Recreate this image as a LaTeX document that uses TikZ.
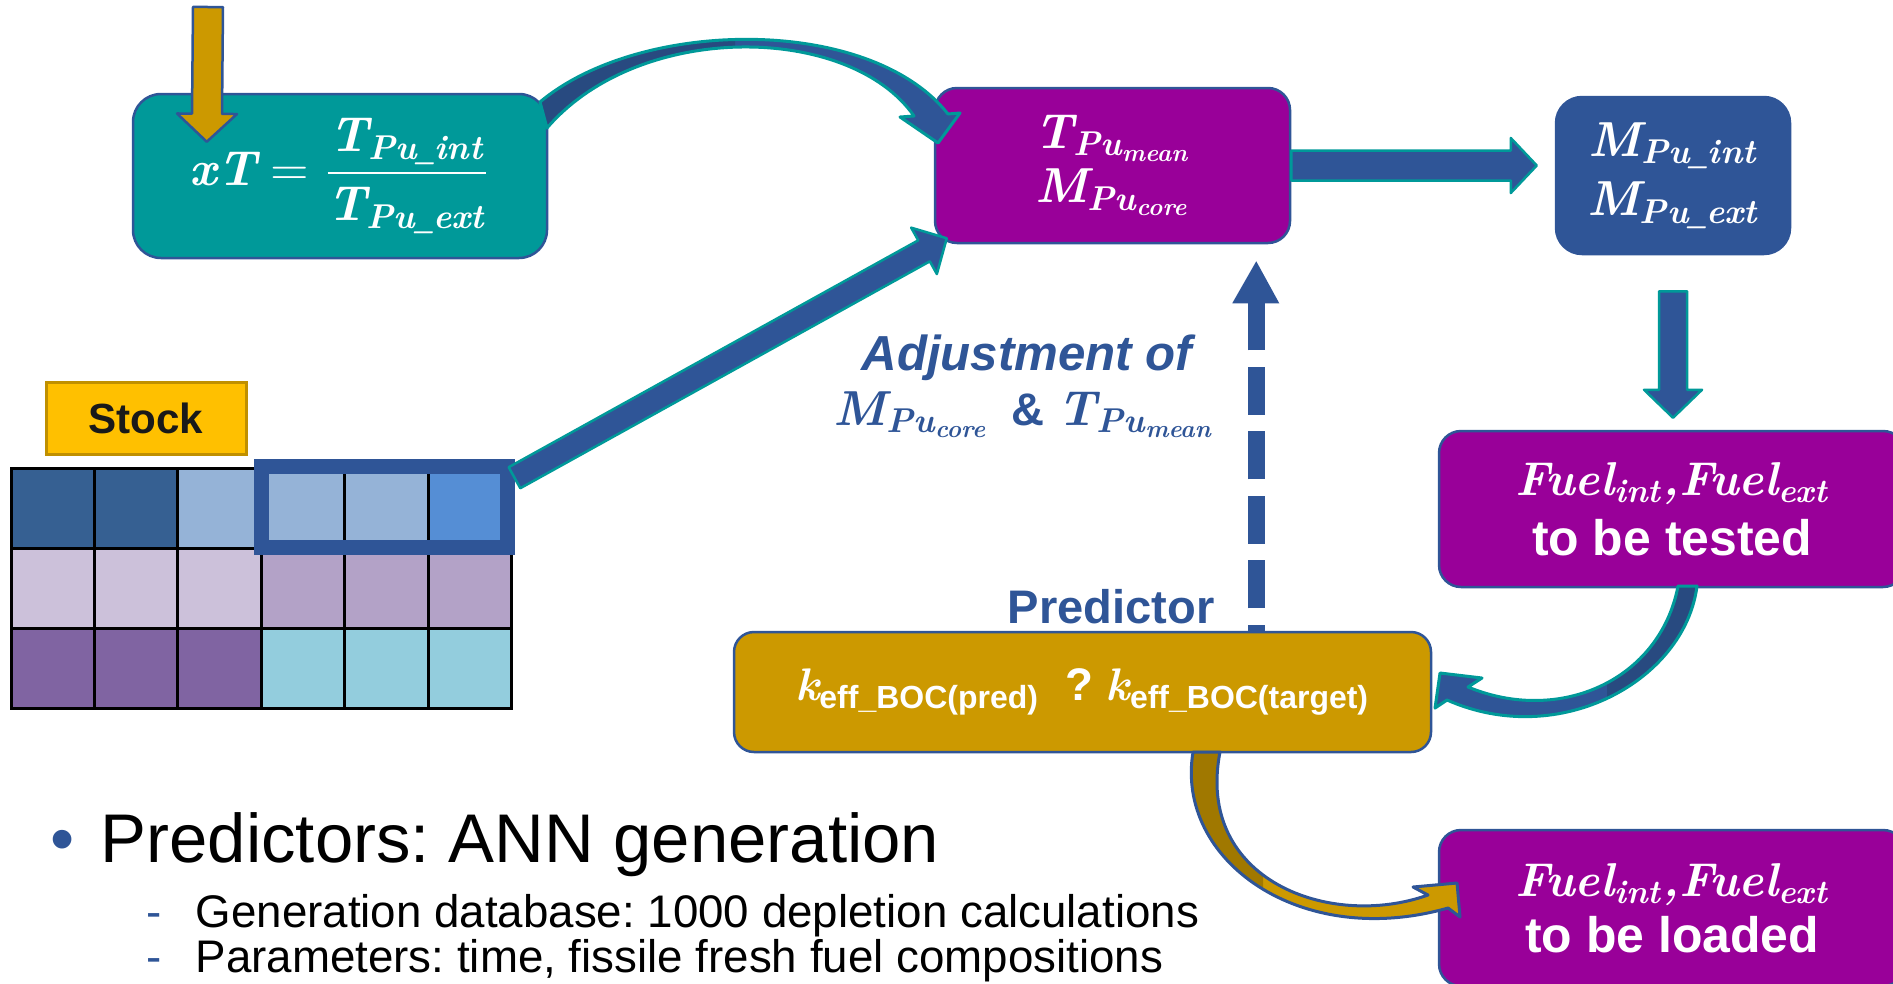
\documentclass[tikz,border=0pt]{standalone}
\usepackage{amsmath}
\usepackage{graphicx}
\usepackage{fontspec}
\setsansfont{Liberation Sans}
\usetikzlibrary{positioning,calc}
\frenchspacing

\definecolor{pptblue}{HTML}{2F5597}
\definecolor{navy}{HTML}{284A80}
\definecolor{tealfill}{HTML}{009999}
\definecolor{purp}{HTML}{990099}
\definecolor{goldbox}{HTML}{CC9900}
\definecolor{golddark}{HTML}{A07800}
\definecolor{stockfill}{HTML}{FFC000}
\definecolor{stockedge}{HTML}{C09000}
\definecolor{gA}{HTML}{366092}
\definecolor{gB}{HTML}{95B3D7}
\definecolor{gC}{HTML}{558ED5}
\definecolor{gD}{HTML}{CCC1DA}
\definecolor{gE}{HTML}{B3A2C7}
\definecolor{gF}{HTML}{8064A2}
\definecolor{gG}{HTML}{93CDDD}

% bold italic maths letters
\newcommand{\bi}[1]{\text{\rmfamily\bfseries\itshape #1}}
\newcommand{\us}{\scalebox{0.6}[1]{\_}}

% block arrow: style, from, to, half shaft, half head, head length
\newcommand{\blockarrow}[6]{%
  \coordinate (bhead) at ($(#3)!#6!(#2)$);
  \filldraw[#1] ($(#2)!#4!90:(#3)$) -- ($(bhead)!#4!90:(#3)$) -- ($(bhead)!#5!90:(#3)$) -- (#3)
    -- ($(bhead)!#5!-90:(#3)$) -- ($(bhead)!#4!-90:(#3)$) -- ($(#2)!#4!-90:(#3)$) -- cycle;
}

\tikzset{
  every node/.style={inner sep=0pt},
  box/.style={draw=pptblue, line width=0.25mm, rounded corners=2.2mm, text=white, align=center},
  mathbox/.style={box, font=\fontsize{14pt}{15.6pt}\selectfont},
  fuelbox/.style={box, fill=purp, font=\fontsize{14.2pt}{17pt}\selectfont},
  stockbox/.style={draw=stockedge, fill=stockfill, line width=0.3mm, minimum width=20mm,
    minimum height=7.2mm, text=black!90, font=\sffamily\bfseries\fontsize{12pt}{14pt}\selectfont},
  cell/.style={draw=black, line width=0.3mm},
  hilite/.style={draw=pptblue, line width=1.5mm},
  bluelabel/.style={text=pptblue},
  bodytext/.style={text=black, font=\sffamily\fontsize{19.6pt}{22pt}\selectfont},
  subtext/.style={text=black, font=\sffamily\fontsize{13pt}{15pt}\selectfont},
  bluearrow/.style={fill=pptblue, draw=tealfill, line width=0.25mm, line join=round},
  goldarrow/.style={fill=goldbox, draw=pptblue, line width=0.25mm, line join=round},
  rimteal/.style={draw=tealfill, line width=0.3mm, line join=round},
  rimblue/.style={draw=pptblue, line width=0.3mm, line join=round},
  dashshaft/.style={draw=pptblue, line width=1.7mm, dash pattern=on 4.8mm off 1.65mm, dash phase=4.2mm}
}

\begin{document}
\begin{tikzpicture}[x=0.1mm, y=-0.1mm]
  \useasboundingbox (0,0) rectangle (1893,983);
  \clip (0,0) rectangle (1893,983);

  % Stock grid
  \foreach \row/\colours in {0/{gA,gA,gB,gB,gB,gC}, 1/{gD,gD,gD,gE,gE,gE}, 2/{gF,gF,gF,gG,gG,gG}} {
    \foreach \col [count=\i from 0] in \colours {
      \filldraw[cell, fill=\col] ({11+83.4*\i},{468+80*\row}) rectangle ++(83.4,80);
    }
  }
  \node[stockbox] (stock) at (146,418) {Stock};
  \node[hilite, minimum width=24.6mm, minimum height=8.1mm] (pick) at (384,506.5) {};

  % Boxes
  \node[mathbox, fill=tealfill, rounded corners=2.8mm, minimum width=41.4mm, minimum height=16.4mm] (xt) at (340,176)
    {$\displaystyle \bi{xT} = \frac{\bi{T}_{\bi{Pu\us int}}}{\bi{T}_{\bi{Pu\us ext}}}$};
  \node[mathbox, fill=purp, minimum width=35.5mm, minimum height=15.5mm] (mc) at (1112.5,165.5)
    {$\bi{T}_{\bi{Pu}_{\bi{mean}}}$\\$\bi{M}_{\bi{Pu}_{\bi{core}}}$};
  \node[mathbox, fill=pptblue, rounded corners=2.6mm, minimum width=23.4mm, minimum height=15.7mm,
    font=\fontsize{14pt}{17pt}\selectfont] (mp) at (1673,175.5)
    {$\bi{M}_{\bi{Pu\us int}}$\\$\bi{M}_{\bi{Pu\us ext}}$};
  \node[fuelbox, minimum width=46.6mm, minimum height=15.6mm] (tested) at (1672,509)
    {{\fontsize{13.5pt}{17pt}\selectfont $\bi{Fuel}_{\bi{int}}\bi{,}\bi{Fuel}_{\bi{ext}}$}\\{\sffamily\bfseries to be tested}};
  \node[fuelbox, minimum width=46.6mm, minimum height=15.6mm, font=\fontsize{14.2pt}{16pt}\selectfont] (loaded) at (1672,908)
    {{\fontsize{13.5pt}{16pt}\selectfont $\bi{Fuel}_{\bi{int}}\bi{,}\bi{Fuel}_{\bi{ext}}$}\\{\sffamily\bfseries to be loaded}};
  \node[box, fill=goldbox, rounded corners=2mm, minimum width=69.7mm, minimum height=12mm,
    font=\sffamily\fontsize{13pt}{15pt}\selectfont] (kef) at (1082.5,692)
    {$\bi{k}_{\text{\sffamily\bfseries eff\_BOC(pred)}}$\ \ {\bfseries ?}\ $\bi{k}_{\text{\sffamily\bfseries eff\_BOC(target)}}$};

  % Labels
  \node[bluelabel, anchor=base, font=\sffamily\bfseries\fontsize{13.4pt}{16pt}\selectfont] (predl) at (1111,623) {Predictor};
  \node[bluelabel, anchor=base, font=\sffamily\bfseries\itshape\fontsize{14pt}{16pt}\selectfont] (adj) at (1027,370) {Adjustment of};
  \node[bluelabel, anchor=base, font=\fontsize{14pt}{16pt}\selectfont] (adjsym) at (1024,425)
    {$\bi{M}_{\bi{Pu}_{\bi{core}}}$\hspace{2.3mm}{\sffamily\bfseries\fontsize{13pt}{15pt}\selectfont\&}\hspace{1.3mm}$\bi{T}_{\bi{Pu}_{\bi{mean}}}$};

  % Bullets
  \node[bluelabel, anchor=base west, font=\sffamily\fontsize{19.6pt}{22pt}\selectfont] (dot1) at (50,862) {\textbullet};
  \node[bodytext, anchor=base west] (b1) at (100,862) {Predictors: ANN generation};
  \node[bluelabel, anchor=base west, font=\sffamily\fontsize{13pt}{15pt}\selectfont] (dash1) at (146,927) {-};
  \node[subtext, anchor=base west] (b2) at (195,927) {Generation database: 1000 depletion calculations};
  \node[bluelabel, anchor=base west, font=\sffamily\fontsize{13pt}{15pt}\selectfont] (dash2) at (146,972) {-};
  \node[subtext, anchor=base west] (b3) at (195,972) {Parameters: time, fissile fresh fuel compositions};

  % Straight block arrows
  \coordinate (gtop) at (208,7);
  \coordinate (gtip) at ($(xt.north west)+(75,49)$);
  \blockarrow{goldarrow}{gtop}{gtip}{1.5mm}{3mm}{2.8mm}

  \coordinate (pickout) at ($(pick.east)!0.6!(pick.north east)$);
  \coordinate (mcin) at ($(mc.south west)+(13,-6)$);
  \blockarrow{bluearrow}{pickout}{mcin}{1.2mm}{2.65mm}{2.6mm}

  \coordinate (mcout) at (mc.east);
  \coordinate (mpin) at ($(mp.west |- mc.east)+(-18,0)$);
  \blockarrow{bluearrow}{mcout}{mpin}{1.5mm}{2.75mm}{2.6mm}

  \coordinate (mpout) at ($(mp.south)+(0,36)$);
  \coordinate (tstin) at ($(mp.south |- tested.north)+(0,-12)$);
  \blockarrow{bluearrow}{mpout}{tstin}{1.4mm}{2.9mm}{2.8mm}

  % Dashed feedback arrow
  \coordinate (adjfoot) at ($(kef.north east)+(-176,0)$);
  \coordinate (adjtip) at ($(adjfoot |- mc.south)+(0,17)$);
  \coordinate (adjbase) at ($(adjtip)+(0,42)$);
  \draw[dashshaft] (adjfoot) -- (adjbase);
  \fill[pptblue] (adjtip) -- ($(adjbase)+(-24,0)$) -- ($(adjbase)+(23,0)$) -- cycle;

  % Curved arrows
  \def\ribbonA{(540,102) .. controls (640,18) and (870,15) .. (948,114) -- (960,113) -- (938,143) -- (900,117)
    -- (914,116) .. controls (850,24) and (640,20) .. (547,128) -- cycle}
  \fill[pptblue] \ribbonA;
  \begin{scope}
    \clip (500,0) rectangle (735,160);
    \fill[navy] \ribbonA;
  \end{scope}
  \draw[rimteal] \ribbonA;

  \def\ribbonB{(1697,586) .. controls (1685,680) and (1560,750) .. (1447,700) -- (1435,708) -- (1440,673) -- (1482,678)
    -- (1468,687) .. controls (1560,725) and (1660,680) .. (1678,586) -- cycle}
  \fill[pptblue] \ribbonB;
  \begin{scope}
    \clip (1607,570) rectangle (1720,700);
    \fill[navy] \ribbonB;
  \end{scope}
  \draw[rimteal] \ribbonB;

  \def\ribbonC{(1193,752) .. controls (1175,860) and (1300,950) .. (1448,908) -- (1460,917) -- (1457,883) -- (1413,887)
    -- (1428,895) .. controls (1330,930) and (1195,880) .. (1220,752) -- cycle}
  \fill[goldbox] \ribbonC;
  \begin{scope}
    \clip (1150,740) rectangle (1263,900);
    \fill[golddark] \ribbonC;
  \end{scope}
  \draw[rimblue] \ribbonC;
\end{tikzpicture}
\end{document}
